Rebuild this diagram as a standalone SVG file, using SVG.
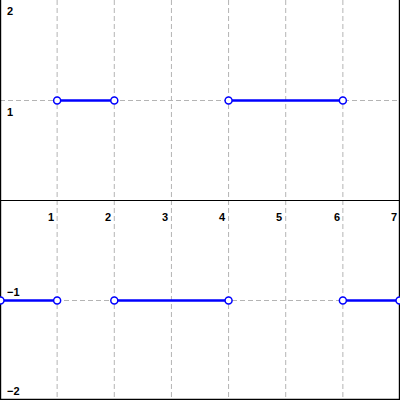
<svg xmlns="http://www.w3.org/2000/svg" width="400" height="400" viewBox="0 0 400 400">
<style>
.grid{stroke:#b4b4b4;stroke-width:1;stroke-dasharray:5,3;fill:none}
.axis{stroke:#000;stroke-width:1.2;fill:none}
.seg{stroke:#0000ff;stroke-width:2.5;fill:none}
.pt{fill:#fff;stroke:#0000ff;stroke-width:1.5}
.lbl{font-family:"Liberation Sans",Arial,sans-serif;font-weight:bold;font-size:11px;fill:#000}
</style>
<rect width="400" height="400" fill="#fff"/>
<g id="grid">
<line class="grid" x1="57.14" y1="0" x2="57.14" y2="400"/>
<line class="grid" x1="114.29" y1="0" x2="114.29" y2="400"/>
<line class="grid" x1="171.43" y1="0" x2="171.43" y2="400"/>
<line class="grid" x1="228.57" y1="0" x2="228.57" y2="400"/>
<line class="grid" x1="285.71" y1="0" x2="285.71" y2="400"/>
<line class="grid" x1="342.86" y1="0" x2="342.86" y2="400"/>
<line class="grid" x1="0" y1="100.5" x2="400" y2="100.5"/>
<line class="grid" x1="0" y1="300.5" x2="400" y2="300.5"/>
</g>
<g id="axes">
<line class="axis" x1="0" y1="200.5" x2="400" y2="200.5"/>
<line class="axis" x1="0.6" y1="0" x2="0.6" y2="400"/>
<line class="axis" x1="399.4" y1="0" x2="399.4" y2="400"/>
<line class="axis" x1="0" y1="399.4" x2="400" y2="399.4"/>
</g>
<g id="labels" class="lbl">
<text x="54" y="221" text-anchor="end">1</text>
<text x="111" y="221" text-anchor="end">2</text>
<text x="168" y="221" text-anchor="end">3</text>
<text x="225" y="221" text-anchor="end">4</text>
<text x="282" y="221" text-anchor="end">5</text>
<text x="340" y="221" text-anchor="end">6</text>
<text x="397" y="221" text-anchor="end">7</text>
<text x="7" y="15">2</text>
<text x="7" y="116">1</text>
<text x="7" y="296">−1</text>
<text x="7" y="395">−2</text>
</g>
<g id="connectors">
<line class="seg" x1="57.14" y1="100.5" x2="114.29" y2="100.5"/>
<line class="seg" x1="228.57" y1="100.5" x2="342.86" y2="100.5"/>
<line class="seg" x1="0" y1="300.5" x2="57.14" y2="300.5"/>
<line class="seg" x1="114.29" y1="300.5" x2="228.57" y2="300.5"/>
<line class="seg" x1="342.86" y1="300.5" x2="400" y2="300.5"/>
</g>
<g id="points">
<circle class="pt" cx="57.14" cy="100.5" r="3.5"/>
<circle class="pt" cx="114.29" cy="100.5" r="3.5"/>
<circle class="pt" cx="228.57" cy="100.5" r="3.5"/>
<circle class="pt" cx="342.86" cy="100.5" r="3.5"/>
<circle class="pt" cx="0.5" cy="300.5" r="3.5"/>
<circle class="pt" cx="57.14" cy="300.5" r="3.5"/>
<circle class="pt" cx="114.29" cy="300.5" r="3.5"/>
<circle class="pt" cx="228.57" cy="300.5" r="3.5"/>
<circle class="pt" cx="342.86" cy="300.5" r="3.5"/>
<circle class="pt" cx="399.5" cy="300.5" r="3.5"/>
</g>
</svg>
